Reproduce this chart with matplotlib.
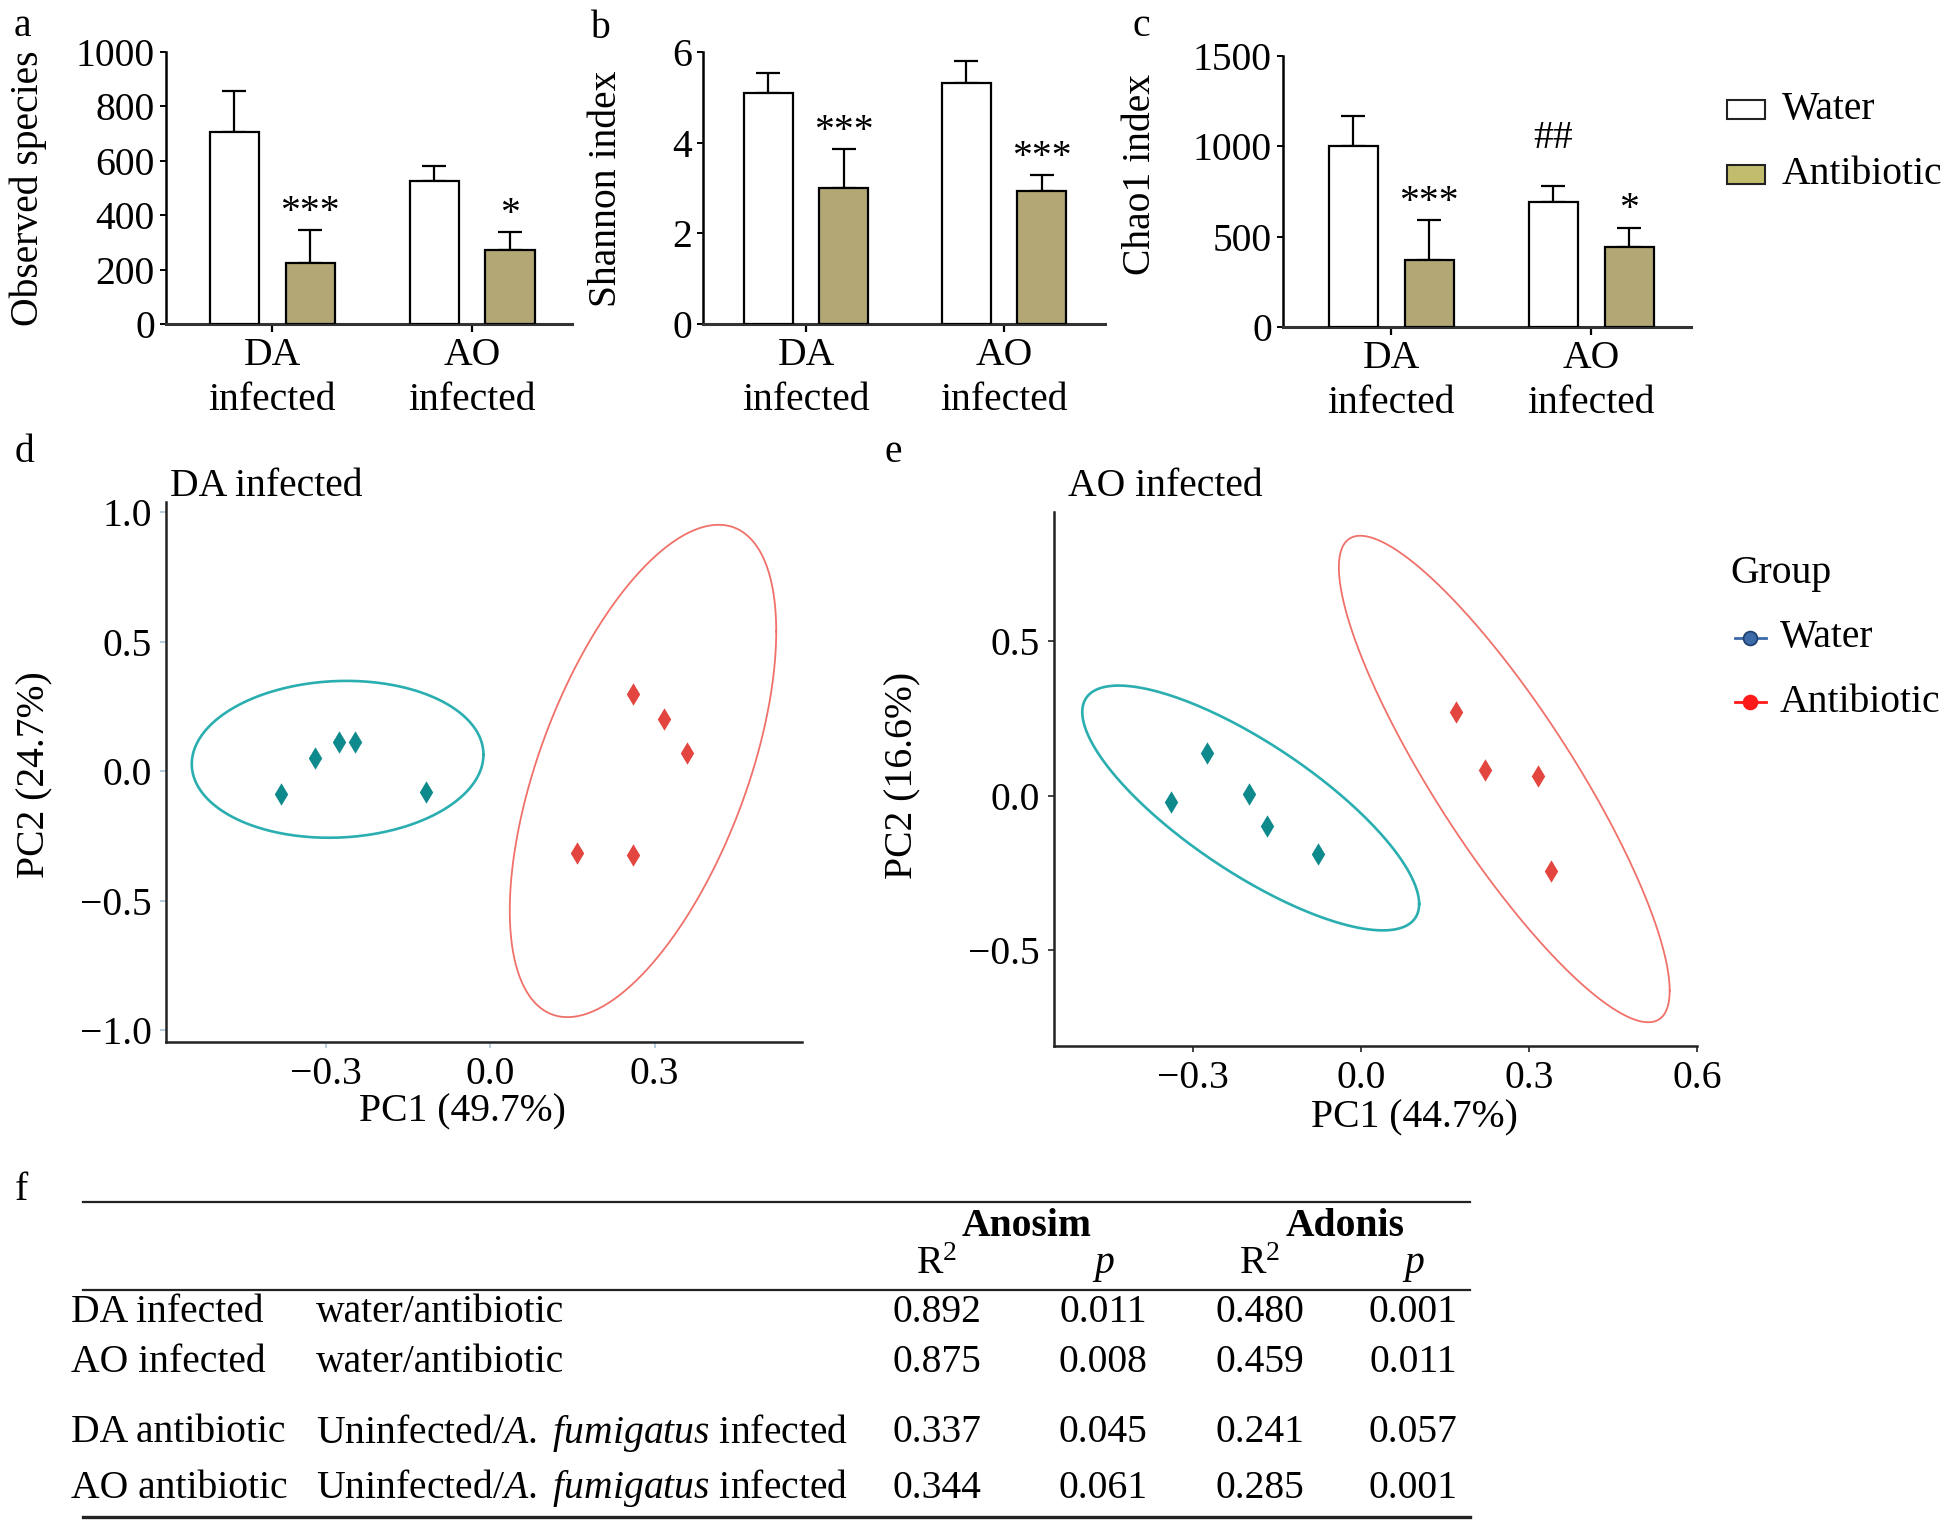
import numpy as np
import matplotlib
matplotlib.use('Agg')
import matplotlib.pyplot as plt
from matplotlib.lines import Line2D
from matplotlib.patches import Rectangle

plt.rcParams['font.family'] = ['Liberation Serif', 'DejaVu Serif']
plt.rcParams['mathtext.fontset'] = 'custom'
plt.rcParams['mathtext.rm'] = 'Liberation Serif'
plt.rcParams['mathtext.it'] = 'Liberation Serif:italic'
plt.rcParams['mathtext.bf'] = 'Liberation Serif:bold'

W, H = 1957, 1532
FS = 28.5
ANTI = '#b3a775'
TEAL_LINE, TEAL_PT = '#2aaeb0', '#0f8a8c'
RED_LINE, RED_PT = '#f0716a', '#e2463f'

# ---- alpha diversity (panels a-c) ----
groups = ['DA\ninfected', 'AO\ninfected']

obs_water = [706, 525]
obs_water_sd = [151, 55]
obs_anti = [225, 272]
obs_anti_sd = [120, 65]
obs_anti_marks = ['***', '*']

shan_water = [5.10, 5.32]
shan_water_sd = [0.44, 0.49]
shan_anti = [2.99, 2.94]
shan_anti_sd = [0.86, 0.34]
shan_anti_marks = ['***', '***']

chao_water = [1003, 693]
chao_water_sd = [166, 89]
chao_water_marks = ['', '##']
chao_anti = [373, 443]
chao_anti_sd = [218, 106]
chao_anti_marks = ['***', '*']

# ---- PCoA (panels d, e) ----
da_water_pc1 = [-0.381, -0.320, -0.275, -0.247, -0.117]
da_water_pc2 = [-0.089, 0.053, 0.113, 0.113, -0.081]
da_anti_pc1 = [0.260, 0.317, 0.359, 0.159, 0.260]
da_anti_pc2 = [0.297, 0.202, 0.070, -0.316, -0.324]

ao_water_pc1 = [-0.340, -0.276, -0.200, -0.168, -0.078]
ao_water_pc2 = [-0.020, 0.139, 0.004, -0.099, -0.188]
ao_anti_pc1 = [0.170, 0.222, 0.315, 0.340]
ao_anti_pc2 = [0.270, 0.084, 0.065, -0.246]

# ellipse: centre x, centre y, half extent x, half extent y, correlation
da_water_ell = [-0.278, 0.046, 0.266, 0.303, 0.06]
da_anti_ell = [0.279, 0.001, 0.243, 0.951, 0.567]
ao_water_ell = [-0.1975, -0.040, 0.301, 0.397, -0.784]
ao_anti_ell = [0.2556, 0.054, 0.2956, 0.789, -0.87]

da_xticks = [-0.3, 0.0, 0.3]
da_xticklabels = ['\u22120.3', '0.0', '0.3']
da_yticks = [-1.0, -0.5, 0.0, 0.5, 1.0]
da_yticklabels = ['\u22121.0', '\u22120.5', '0.0', '0.5', '1.0']
ao_xticks = [-0.3, 0.0, 0.3, 0.6]
ao_xticklabels = ['\u22120.3', '0.0', '0.3', '0.6']
ao_yticks = [-0.5, 0.0, 0.5]
ao_yticklabels = ['\u22120.5', '0.0', '0.5']

# ---- table (panel f) ----
tab_group = ['DA infected', 'AO infected', 'DA antibiotic', 'AO antibiotic']
tab_comp = ['water/antibiotic', 'water/antibiotic',
            r'Uninfected/$\mathit{A.}$ $\mathit{fumigatus}$ infected',
            r'Uninfected/$\mathit{A.}$ $\mathit{fumigatus}$ infected']
anosim_r2 = ['0.892', '0.875', '0.337', '0.344']
anosim_p = ['0.011', '0.008', '0.045', '0.061']
adonis_r2 = ['0.480', '0.459', '0.241', '0.285']
adonis_p = ['0.001', '0.011', '0.057', '0.001']


def px_axes(fig, left, top, right, bottom):
    return fig.add_axes([left / W, 1 - bottom / H, (right - left) / W, (bottom - top) / H])


def fxy(x, y):
    return x / W, 1 - y / H


def bar_panel(ax, water, water_sd, anti, anti_sd, water_marks, anti_marks, ylim, yticks, xlim):
    x = np.arange(len(groups))
    off, bw = 0.19, 0.245
    sets = [(x - off, water, water_sd, 'white', water_marks),
            (x + off, anti, anti_sd, ANTI, anti_marks)]
    for xs, m, sd, fc, marks in sets:
        ax.bar(xs, m, bw, color=fc, edgecolor='black', lw=1.6, zorder=3)
        ax.errorbar(xs, m, yerr=[np.zeros(len(m)), sd], fmt='none', ecolor='black',
                    elinewidth=1.6, capsize=8.5, capthick=1.6, zorder=2)
        for xi, mi, si, mk in zip(xs, m, sd, marks):
            if mk:
                dy = 27 if mk.startswith('#') else 6
                ax.annotate(mk, (xi, mi + si), xytext=(0, dy), textcoords='offset points',
                            ha='center', va='baseline', fontsize=FS)
    for s in ['top', 'right']:
        ax.spines[s].set_visible(False)
    ax.spines['left'].set_linewidth(1.8)
    ax.spines['bottom'].set_linewidth(2.2)
    ax.spines['bottom'].set_color('#333333')
    ax.set_xlim(xlim)
    ax.set_ylim(ylim)
    ax.set_yticks(yticks)
    ax.set_xticks(x, groups)
    ax.tick_params(axis='x', length=6, width=1.6, pad=3.7, labelsize=FS)
    ax.tick_params(axis='y', length=4, width=1.4, pad=4, labelsize=FS)
    for lab in ax.get_xticklabels():
        lab.set_linespacing(1.27)


def ellipse(ax, params, color, lw):
    cx, cy, sx, sy, r = params
    t = np.linspace(0, 2 * np.pi, 300)
    ax.plot(cx + sx * np.cos(t),
            cy + sy * (r * np.cos(t) + np.sqrt(1 - r ** 2) * np.sin(t)),
            color=color, lw=lw, zorder=2)


def pcoa_panel(ax, wx, wy, ax_, ay, ell_w, ell_a, xlim, ylim,
               xticks, xticklabels, yticks, yticklabels, tickcolor):
    ellipse(ax, ell_w, TEAL_LINE, 1.9)
    ellipse(ax, ell_a, RED_LINE, 1.3)
    ax.scatter(wx, wy, marker='d', s=130, color=TEAL_PT, lw=0, zorder=3)
    ax.scatter(ax_, ay, marker='d', s=130, color=RED_PT, lw=0, zorder=3)
    for s in ['top', 'right']:
        ax.spines[s].set_visible(False)
    for s in ['left', 'bottom']:
        ax.spines[s].set_linewidth(1.8)
        ax.spines[s].set_color('#222222')
    ax.set_xlim(xlim)
    ax.set_ylim(ylim)
    ax.set_xticks(xticks, xticklabels)
    ax.set_yticks(yticks, yticklabels)
    ax.tick_params(length=4, width=1.2, color=tickcolor, labelsize=FS, pad=6)


fig = plt.figure(figsize=(W / 100, H / 100), dpi=100)

ax_a = px_axes(fig, 166, 52, 572, 324)
bar_panel(ax_a, obs_water, obs_water_sd, obs_anti, obs_anti_sd, ['', ''], obs_anti_marks,
          (0, 1000), [0, 200, 400, 600, 800, 1000], (-0.53, 1.5))
ax_b = px_axes(fig, 703, 52, 1105, 324)
bar_panel(ax_b, shan_water, shan_water_sd, shan_anti, shan_anti_sd, ['', ''], shan_anti_marks,
          (0, 6), [0, 2, 4, 6], (-0.52, 1.51))
ax_c = px_axes(fig, 1283, 56, 1691, 327)
bar_panel(ax_c, chao_water, chao_water_sd, chao_anti, chao_anti_sd, chao_water_marks,
          chao_anti_marks, (0, 1500), [0, 500, 1000, 1500], (-0.54, 1.5))

fig.text(*fxy(28, 188), 'Observed species', rotation=90, ha='center', va='center', fontsize=FS)
fig.text(*fxy(606, 189), 'Shannon index', rotation=90, ha='center', va='center', fontsize=FS)
fig.text(*fxy(1140, 174), 'Chao1 index', rotation=90, ha='center', va='center', fontsize=FS)

# bar legend
for (y0, fc, lab) in [(100, 'white', 'Water'), (165, '#c2bd6c', 'Antibiotic')]:
    fig.add_artist(Rectangle(fxy(1727, y0 + 19), 38 / W, 19 / H, transform=fig.transFigure,
                             facecolor=fc, edgecolor='#222222', lw=1.5))
    fig.text(*fxy(1782, y0 + 10), lab, ha='left', va='center', fontsize=FS)

ax_d = px_axes(fig, 166, 502, 802, 1042)
pcoa_panel(ax_d, da_water_pc1, da_water_pc2, da_anti_pc1, da_anti_pc2, da_water_ell, da_anti_ell,
           (-0.591, 0.569), (-1.046, 1.04), da_xticks, da_xticklabels, da_yticks, da_yticklabels,
           '#a9c3da')
ax_e = px_axes(fig, 1054, 512, 1697, 1046)
pcoa_panel(ax_e, ao_water_pc1, ao_water_pc2, ao_anti_pc1, ao_anti_pc2, ao_water_ell, ao_anti_ell,
           (-0.549, 0.6), (-0.812, 0.92), ao_xticks, ao_xticklabels, ao_yticks, ao_yticklabels,
           '#222222')

fig.text(*fxy(170, 487), 'DA infected', ha='left', va='center', fontsize=FS)
fig.text(*fxy(1068, 487), 'AO infected', ha='left', va='center', fontsize=FS)
fig.text(*fxy(462, 1112), 'PC1 (49.7%)', ha='center', va='center', fontsize=FS)
fig.text(*fxy(35, 775), 'PC2 (24.7%)', rotation=90, ha='center', va='center', fontsize=FS)
fig.text(*fxy(1414, 1118), 'PC1 (44.7%)', ha='center', va='center', fontsize=FS)
fig.text(*fxy(903, 775), 'PC2 (16.6%)', rotation=90, ha='center', va='center', fontsize=FS)

# group legend
fig.text(*fxy(1730, 573), 'Group', ha='left', va='center', fontsize=FS)
for (y0, fc, ec, lab) in [(638, '#3d6aa9', '#1f3f6e', 'Water'), (702, '#ff1a1a', '#ff1a1a', 'Antibiotic')]:
    fig.add_artist(Line2D([1735 / W, 1766 / W], [1 - y0 / H] * 2, transform=fig.transFigure,
                          color=fc, lw=2))
    fig.add_artist(Line2D([1750 / W], [1 - y0 / H], transform=fig.transFigure, marker='o',
                          ms=10, mfc=fc, mec=ec, mew=1.2, lw=0))
    fig.text(*fxy(1780, y0), lab, ha='left', va='center', fontsize=FS)

# panel letters
for (x0, y0, lab) in [(22, 26, 'a'), (600, 28, 'b'), (1141, 26, 'c'),
                      (25, 452, 'd'), (893, 452, 'e'), (21, 1190, 'f')]:
    fig.text(*fxy(x0, y0), lab, ha='center', va='center', fontsize=FS)

# ---- table ----
for (y0, lw) in [(1202, 1.6), (1290, 1.6), (1517, 2.4)]:
    fig.add_artist(Line2D([83 / W, 1470 / W], [1 - y0 / H] * 2, transform=fig.transFigure,
                          color='#222222', lw=lw))
fig.text(*fxy(1027, 1227), 'Anosim', ha='center', va='center', fontsize=FS, fontweight='bold')
fig.text(*fxy(1345, 1227), 'Adonis', ha='center', va='center', fontsize=FS, fontweight='bold')
col_x = [937, 1103, 1260, 1413]
for cx, lab in zip(col_x, ['R$^2$', '$p$', 'R$^2$', '$p$']):
    fig.text(*fxy(cx, 1265), lab, ha='center', va='center', fontsize=FS)
row_y = [1313, 1363, 1433, 1488]
for i, ry in enumerate(row_y):
    fig.text(*fxy(71, ry), tab_group[i], ha='left', va='center', fontsize=FS)
    fig.text(*fxy(316, ry), tab_comp[i], ha='left', va='center', fontsize=FS)
    for cx, col in zip(col_x, [anosim_r2, anosim_p, adonis_r2, adonis_p]):
        fig.text(*fxy(cx, ry), col[i], ha='center', va='center', fontsize=FS)

fig.savefig('out.png', dpi=100)
